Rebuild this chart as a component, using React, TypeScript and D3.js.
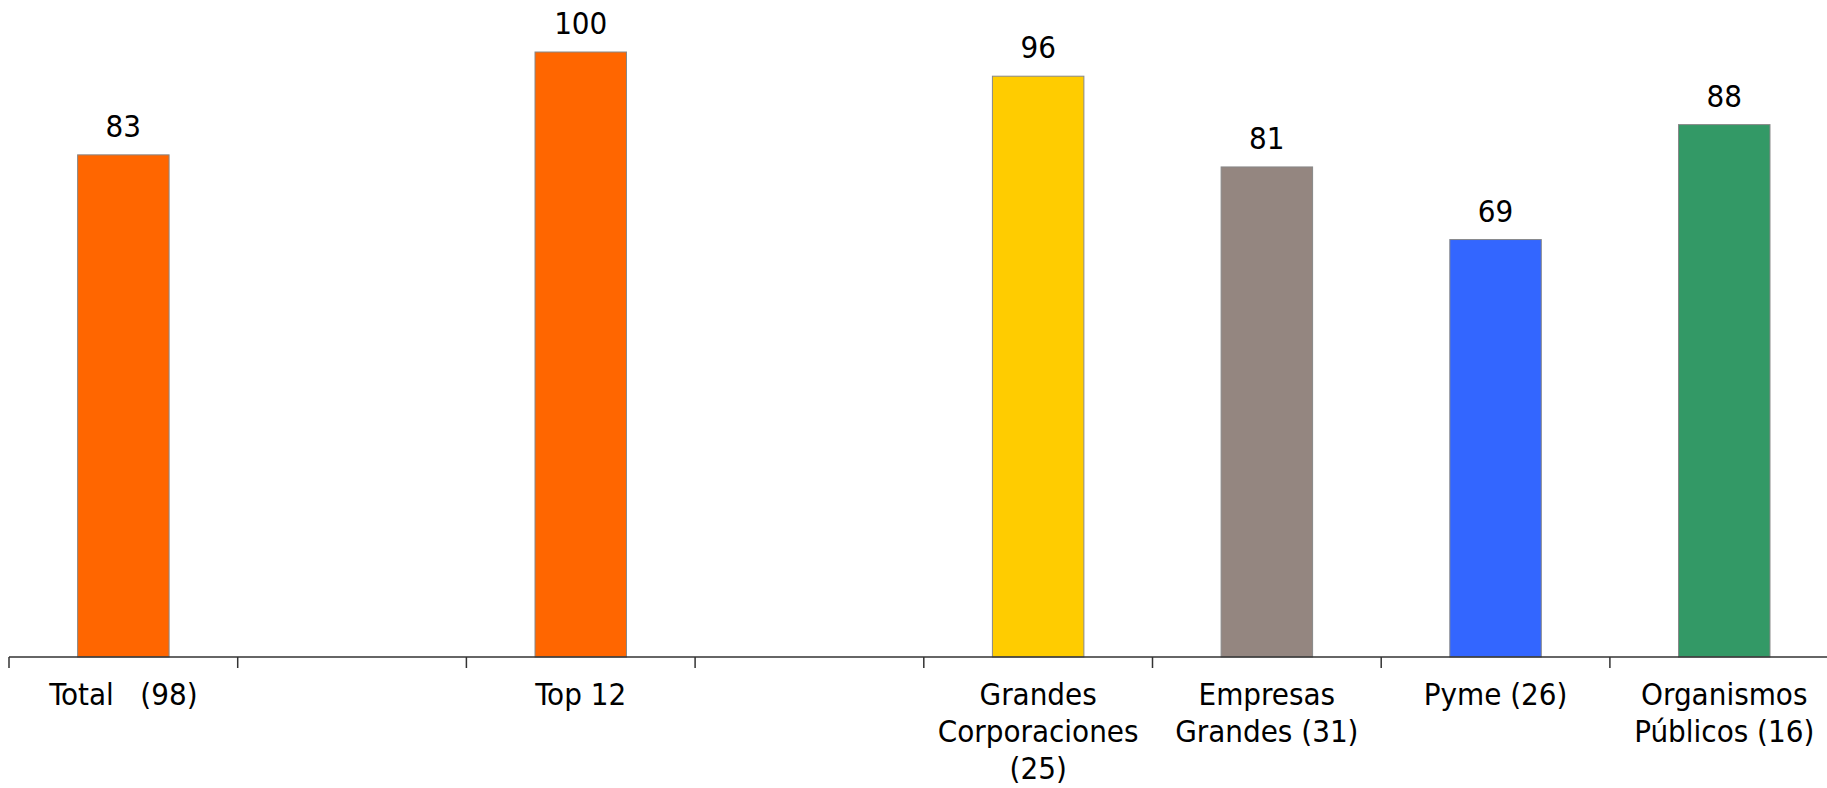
import React from "react";
import * as d3 from "d3";

const categories: string[][] = [
  ["Total\u00a0\u00a0\u00a0(98)"],
  [],
  ["Top 12"],
  [],
  ["Grandes", "Corporaciones", "(25)"],
  ["Empresas", "Grandes (31)"],
  ["Pyme (26)"],
  ["Organismos", "Públicos (16)"],
];
const values: (number | null)[] = [83, null, 100, null, 96, 81, 69, 88];
const colors: string[] = ["#FF6600", "", "#FF6600", "", "#FFCC00", "#948680", "#3366FF", "#339966"];

const W = 1827;
const H = 788;
const x0 = 9;
const slot = 228.7;
const baseY = 657;

export default function App() {
  const x = d3
    .scaleBand<number>()
    .domain(d3.range(categories.length))
    .range([x0, x0 + slot * categories.length])
    .paddingInner(0)
    .paddingOuter(0);
  const y = d3.scaleLinear().domain([0, 100]).range([baseY, 52]);
  const bw = x.bandwidth() * 0.4;
  const font = "'DejaVu Sans Condensed', 'DejaVu Sans', sans-serif";
  const ticks = d3.range(categories.length + 1).map((i) => x0 + x.step() * i);

  return (
    <svg
      width={W}
      height={H}
      style={{ position: "absolute", left: 0, top: 0, background: "#fff" }}
      fontFamily={font}
    >
      {values.map((v, i) =>
        v == null ? null : (
          <g key={i}>
            <rect
              x={(x(i) as number) + x.bandwidth() / 2 - bw / 2}
              y={y(v)}
              width={bw}
              height={baseY - y(v)}
              fill={colors[i]}
              stroke="#888"
              strokeWidth={1}
            />
            <text
              x={(x(i) as number) + x.bandwidth() / 2}
              y={y(v) - 18}
              textAnchor="middle"
              fontSize={31}
              fontStretch="condensed"
              fill="#000"
            >
              {v}
            </text>
          </g>
        )
      )}
      <line x1={x0} x2={W} y1={baseY} y2={baseY} stroke="#333" strokeWidth={1.5} />
      {ticks.map((t, i) => (
        <line key={i} x1={t} x2={t} y1={baseY} y2={baseY + 11} stroke="#333" strokeWidth={1.5} />
      ))}
      {categories.map((lines, i) =>
        lines.map((l, j) => (
          <text
            key={i + "-" + j}
            x={(x(i) as number) + x.bandwidth() / 2}
            y={705 + j * 37}
            textAnchor="middle"
            fontSize={31}
            fontStretch="condensed"
            fill="#000"
          >
            {l}
          </text>
        ))
      )}
    </svg>
  );
}
